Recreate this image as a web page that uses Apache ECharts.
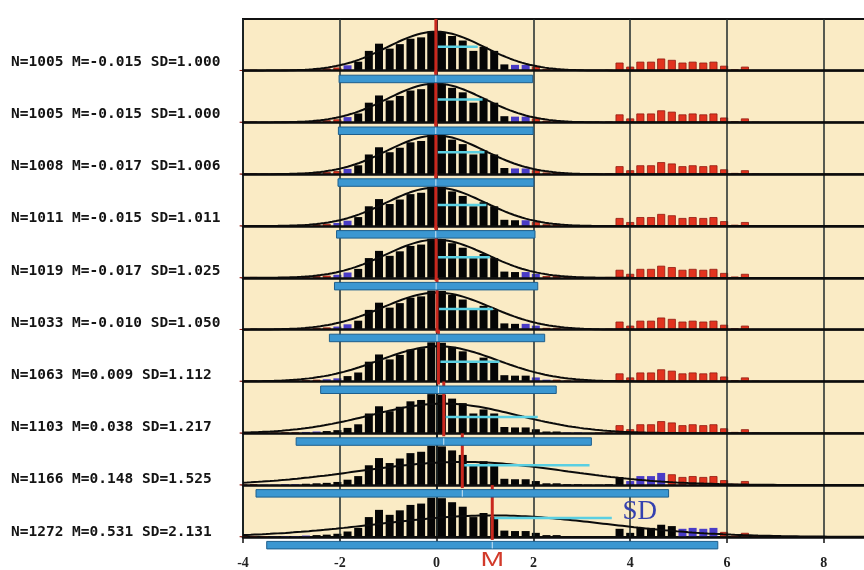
<!DOCTYPE html>
<html>
<head>
<meta charset="utf-8">
<script src="https://cdn.jsdelivr.net/npm/echarts@6/dist/echarts.min.js"></script>
<style>
  html, body { margin: 0; padding: 0; background: #ffffff; overflow: hidden; }
  #chart { width: 880px; height: 570px; }
</style>
</head>
<body>
<div id="chart"></div>
<script>
// Histogram bins (centres, width 0.216) shared by all ten panels
const binCenters = [-3.99, -3.78, -3.56, -3.35, -3.13, -2.92, -2.70, -2.48, -2.27, -2.05,
  -1.84, -1.62, -1.40, -1.19, -0.97, -0.76, -0.54, -0.32, -0.11,
  0.11, 0.32, 0.54, 0.76, 0.97, 1.19, 1.40, 1.62, 1.84,
  2.05, 2.27, 2.48, 2.70, 2.92, 3.13, 3.35, 3.56, 3.78,
  4.00, 4.21, 4.43, 4.64, 4.86, 5.08, 5.29, 5.51, 5.72,
  5.94, 6.16, 6.37, 6.59];

// Counts of the main sample per bin
const coreCounts = [1, 2, 1, 1, 2, 2, 3, 4, 5, 7,
  12, 20, 44, 60, 49, 59, 71, 74, 87,
  86, 77, 67, 44, 53, 44, 14, 13, 13,
  9, 4, 4, 2, 2, 1, 1, 0, 0,
  0, 0, 0, 0, 0, 0, 0, 0, 0,
  0, 0, 0, 0];

// Counts of the contaminating cluster per bin
const outlierCounts = [0, 0, 0, 0, 0, 0, 0, 0, 0, 0,
  0, 0, 0, 0, 0, 0, 0, 0, 0,
  0, 0, 0, 0, 0, 0, 0, 0, 0,
  0, 0, 0, 0, 0, 0, 0, 2, 18,
  9, 20, 20, 27, 24, 18, 20, 18, 20,
  11, 3, 9, 1];

// Row captions
const labelN = [1005, 1005, 1008, 1011, 1019, 1033, 1063, 1103, 1166, 1272];
const labelM = [-0.015, -0.015, -0.017, -0.015, -0.017, -0.010, 0.009, 0.038, 0.148, 0.531];
const labelSD = [1.000, 1.000, 1.006, 1.011, 1.025, 1.050, 1.112, 1.217, 1.525, 2.131];

// Normal fit, mean marker and ±2 SD band of each panel
const fitN = [1005, 1008, 1011, 1019, 1033, 1063, 1103, 1166, 1272, 1290];
const fitM = [-0.015, -0.017, -0.015, -0.017, -0.010, 0.009, 0.038, 0.148, 0.531, 1.15];
const fitSD = [1.000, 1.006, 1.011, 1.025, 1.050, 1.112, 1.217, 1.525, 2.131, 2.33];

// SD indicator segment: right end (x) and height (count)
const sdLineEnd = [0.85, 0.95, 0.99, 1.03, 1.10, 1.16, 1.30, 2.09, 3.16, 3.62];
const sdLineLevel = [53, 51, 49, 47, 46, 46, 44, 36, 44, 42];

const xTicks = [-4, -2, 0, 2, 4, 6, 8];

// ---- layout ----
const PANELS = 10;
const PLOT_LEFT = 243;
const PLOT_TOP = 18.9;
const PANEL_H = 51.8;
const X_MIN = -4, X_MAX = 9, X_STEP = 2;
const PLOT_WIDTH = (X_MAX - X_MIN) * 48.4;
const Y_MAX = 115;
const BIN_WIDTH = 0.216;

const COLORS = {
  bg: '#FAEBC5',
  frame: '#111111',
  grid: '#1f2a2a',
  bar: '#050505',
  barBlue: '#4A3CC6',
  barRed: '#E2331F',
  barRedEdge: '#901A10',
  curve: '#0b0b0b',
  mean: '#C9281E',
  sd: '#5ACFE2',
  band: '#3B97D1',
  bandEdge: '#1D5E8C'
};

function barColor(x, m, sd) {
  const z = Math.abs((x - m) / sd);
  if (z > 2) return 'red';
  if (z > 1.61) return 'blue';
  return 'black';
}

function normalFit(n, m, sd) {
  const pts = [];
  for (let x = X_MIN; x <= X_MAX + 1e-9; x += 0.04) {
    const z = (x - m) / sd;
    pts.push([x, n * BIN_WIDTH * Math.exp(-0.5 * z * z) / (sd * Math.sqrt(2 * Math.PI))]);
  }
  return pts;
}

const grids = [], xAxes = [], yAxes = [], series = [];

for (let k = 0; k < PANELS; k++) {
  const last = k === PANELS - 1;
  grids.push({ left: PLOT_LEFT, top: PLOT_TOP + k * PANEL_H, width: PLOT_WIDTH, height: PANEL_H });
  xAxes.push({
    gridIndex: k, type: 'value', min: X_MIN, max: X_MAX, interval: X_STEP, z: 3,
    axisLine: { show: true, onZero: false, lineStyle: { color: '#0d0d0d', width: 2.5 } },
    axisTick: { show: last, length: 6, lineStyle: { color: '#111', width: 1.5 } },
    axisLabel: {
      show: last, margin: 19, showMinLabel: true,
      fontFamily: 'Liberation Serif', fontSize: 14, fontWeight: 'bold', color: '#222',
      formatter: v => (xTicks.indexOf(v) >= 0 ? String(v) : '')
    },
    splitLine: { show: true, lineStyle: { color: COLORS.grid, width: 1.5 } }
  });
  yAxes.push({
    gridIndex: k, type: 'value', min: 0, max: Y_MAX,
    axisLine: { show: true, lineStyle: { color: COLORS.frame, width: 2 } },
    axisTick: { show: false }, axisLabel: { show: false }, splitLine: { show: false }
  });

  const m = fitM[k], sd = fitSD[k];
  const barData = [];
  binCenters.forEach((x, i) => {
    const c = coreCounts[i] + outlierCounts[i];
    if (c <= 0) return;
    const kind = barColor(x, m, sd);
    const style = kind === 'red'
      ? { color: COLORS.barRed, borderColor: COLORS.barRedEdge, borderWidth: 0.8 }
      : { color: kind === 'blue' ? COLORS.barBlue : COLORS.bar };
    barData.push({ value: [x, c], itemStyle: style });
  });

  series.push({
    type: 'bar', xAxisIndex: k, yAxisIndex: k, barWidth: 8, z: 2,
    data: barData, silent: true
  });

  series.push({
    type: 'line', xAxisIndex: k, yAxisIndex: k, z: 4, silent: true,
    symbol: 'none', showSymbol: false,
    lineStyle: { color: COLORS.curve, width: 2 },
    data: normalFit(fitN[k], m, sd)
  });

  // mean marker + SD indicator
  series.push({
    type: 'custom', xAxisIndex: k, yAxisIndex: k, z: 5, clip: false, silent: true,
    data: [[m, sdLineEnd[k], sdLineLevel[k]]],
    renderItem: (params, api) => {
      const mean = api.value(0), end = api.value(1), lvl = api.value(2);
      const top = api.coord([mean, Y_MAX]);
      const base = api.coord([mean, 0]);
      const s0 = api.coord([mean, lvl]);
      const s1 = api.coord([end, lvl]);
      const children = [
        { type: 'line', shape: { x1: base[0], y1: top[1], x2: base[0], y2: base[1] + 3 },
          style: { stroke: COLORS.mean, lineWidth: 3 } },
        { type: 'line', shape: { x1: s0[0] + 2, y1: s0[1], x2: s1[0], y2: s1[1] },
          style: { stroke: COLORS.sd, lineWidth: 2.5 } }
      ];
      if (last) {
        children.push({
          type: 'text', x: s1[0] + 28, y: s1[1] - 6,
          style: { text: 'SD', font: '27px "Liberation Serif"', fill: '#3541B0',
                   align: 'center', verticalAlign: 'middle' }
        });
        children.push({
          type: 'text', x: base[0], y: base[1] + 23, scaleX: 1.35,
          style: { text: 'M', font: '21px "Liberation Sans"', fill: '#D23A2A',
                   align: 'center', verticalAlign: 'middle' }
        });
      }
      return { type: 'group', children };
    }
  });

  // ±2 SD band under the baseline
  series.push({
    type: 'custom', xAxisIndex: k, yAxisIndex: k, z: 6, clip: false, silent: true,
    data: [[m, sd]],
    renderItem: (params, api) => {
      const mean = api.value(0), s = api.value(1);
      const a = api.coord([mean - 2 * s, 0]);
      const b = api.coord([mean + 2 * s, 0]);
      const c = api.coord([mean, 0]);
      return { type: 'group', children: [
        { type: 'rect', shape: { x: a[0], y: a[1] + 4.5, width: b[0] - a[0], height: 7.5 },
          style: { fill: COLORS.band, stroke: COLORS.bandEdge, lineWidth: 1 } },
        { type: 'line', shape: { x1: c[0], y1: c[1] + 5, x2: c[0], y2: c[1] + 11.5 },
          style: { stroke: '#cfe6f4', lineWidth: 1 } }
      ] };
    }
  });
}

// outer frame and background
grids.push({
  left: PLOT_LEFT, top: PLOT_TOP, width: PLOT_WIDTH, height: PANELS * PANEL_H,
  show: true, backgroundColor: COLORS.bg, borderColor: COLORS.frame, borderWidth: 2, z: -1
});
xAxes.push({ gridIndex: PANELS, type: 'value', min: X_MIN, max: X_MAX, show: false });
yAxes.push({ gridIndex: PANELS, type: 'value', min: 0, max: 1, show: false });

// row captions
const captions = labelN.map((n, k) => ({
  type: 'text', x: 11, y: 62 + k * 52.2,
  style: {
    text: 'N=' + n + ' M=' + labelM[k].toFixed(3) + ' SD=' + labelSD[k].toFixed(3),
    font: 'bold 14.5px "DejaVu Sans Mono"', fill: '#141414', verticalAlign: 'middle'
  }
}));

const chart = echarts.init(document.getElementById('chart'));
chart.setOption({
  animation: false,
  backgroundColor: '#ffffff',
  grid: grids,
  xAxis: xAxes,
  yAxis: yAxes,
  series: series,
  graphic: { elements: captions }
});
</script>
</body>
</html>
